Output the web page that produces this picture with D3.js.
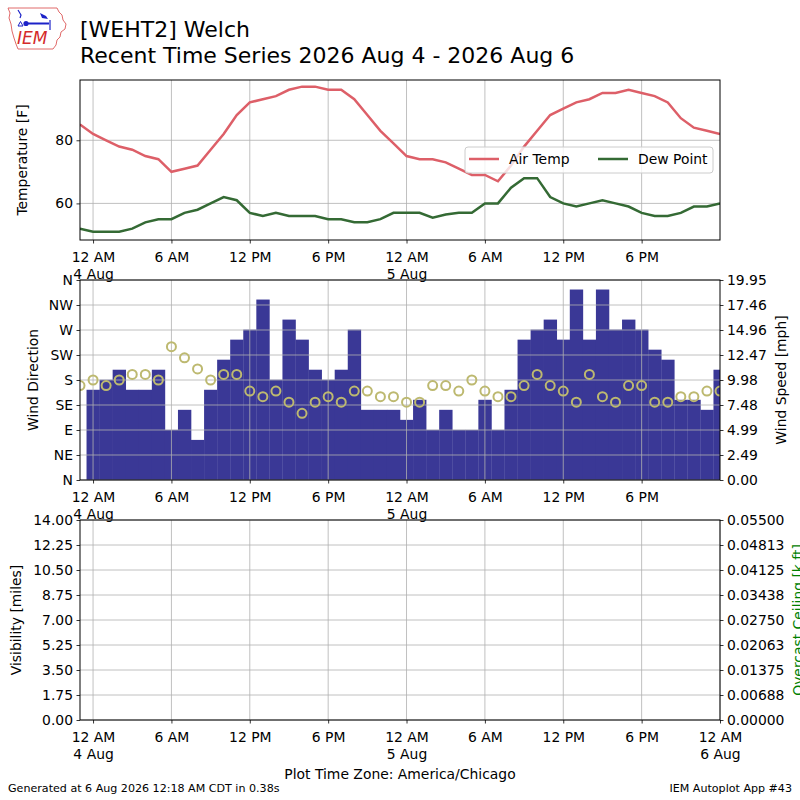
<!DOCTYPE html>
<html>
<head>
<meta charset="utf-8">
<script src="https://cdn.jsdelivr.net/npm/d3@7"></script>
<style>
body { margin: 0; background: #fff; }
text { font-family: "DejaVu Sans", sans-serif; }
</style>
</head>
<body>
<div id="chart"></div>
<script>
// hourly observations, local time (America/Chicago)
var obsStart = "2026-08-03 23:00";
var obsEnd = "2026-08-06 00:00";

// air temperature [F], one per hour from obsStart
var tmpf = [85,
	82, 80, 78, 77, 75, 74, 70, 71, 72, 77, 82, 88, 92, 93, 94, 96, 97, 97, 96, 96, 93, 88, 83, 79,
	75, 74, 74, 73, 71, 69, 69, 67, 72, 78, 83, 88, 90, 92, 93, 95, 95, 96, 95, 94, 92, 87, 84, 83, 82];
// dew point [F]
var dwpf = [52,
	51, 51, 51, 52, 54, 55, 55, 57, 58, 60, 62, 61, 57, 56, 57, 56, 56, 56, 55, 55, 54, 54, 55, 57,
	57, 57, 55.5, 56.5, 57, 57, 60, 60, 65, 68, 68, 62, 60, 59, 60, 61, 60, 59, 57, 56, 56, 57, 59, 59, 60];
// wind speed [mph], null = missing
var sped = [null,
	9, 10, 11, 9, 9, 11, 5, 7, 4, 9, 12, 14, 15, 18, 10, 16, 14, 11, 10, 11, 15, 7, 7, 7,
	6, 8, 5, 7, 5, 5, 8, 5, 9, 14, 15, 16, 14, 19, 14, 19, 15, 16, 15, 13, 12, 8, 8, 7, 11];
// wind direction [deg]
var drct = [170,
	180, 170, 180, 190, 190, 180, 240, 220, 200, 180, 190, 190, 160, 150, 160, 140, 120, 140, 150, 140, 160, 160, 150, 150,
	140, 140, 170, 170, 160, 180, 160, 150, 150, 170, 190, 170, 160, 140, 190, 150, 140, 170, 170, 140, 140, 150, 150, 160, 160];

// axis limits and tick labels
var tempLimits = [48.4, 99.1];
var tempTicks = [60, 80];
var dirTicks = [0, 45, 90, 135, 180, 225, 270, 315, 360];
var dirLabels = ["N", "NE", "E", "SE", "S", "SW", "W", "NW", "N"];
var speedMax = 19.95;
var speedLabels = ["0.00", "2.49", "4.99", "7.48", "9.98", "12.47", "14.96", "17.46", "19.95"];
var visMax = 14;
var visLabels = ["0.00", "1.75", "3.50", "5.25", "7.00", "8.75", "10.50", "12.25", "14.00"];
var ceilMax = 0.055;
var ceilLabels = ["0.00000", "0.00688", "0.01375", "0.02063", "0.02750", "0.03438", "0.04125", "0.04813", "0.05500"];

var fs = 13.9; // matplotlib 10pt at 100dpi
var gridColor = "#b0b0b0";
var tempColor = "#dd5f68";
var dewColor = "#346a34";
var barColor = "#3a3896";
var dirColor = "#bdb970";

var parse = d3.timeParse("%Y-%m-%d %H:%M");
var t0 = parse(obsStart), t1 = parse(obsEnd);
var times = d3.timeHour.range(t0, d3.timeHour.offset(t1, 1));

var svg = d3.select("#chart").append("svg").attr("width", 800).attr("height", 800);

var x = d3.scaleTime().domain([t0, t1]).range([80, 720]);
var xTicksAll = x.ticks(d3.timeHour.every(6));
var xTicksTop = xTicksAll.filter(function(d) { return d < t1; });
var fmtHour = d3.timeFormat("%-I %p");
var fmtDay = d3.timeFormat("%-d %b");

// panel boxes [top, bottom]
var pTemp = [80, 240], pWind = [280, 480], pVis = [520, 720];

var defs = svg.append("defs");
function clipFor(id, p) {
	defs.append("clipPath").attr("id", id).append("rect")
		.attr("x", 80).attr("y", p[0]).attr("width", 640).attr("height", p[1] - p[0]);
	return "url(#" + id + ")";
}

function grid(p, yScale, yVals, xVals) {
	var g = svg.append("g").attr("stroke", gridColor).attr("stroke-width", 0.8);
	g.selectAll(".gx").data(xVals).enter().append("line")
		.attr("x1", function(d) { return x(d); }).attr("x2", function(d) { return x(d); })
		.attr("y1", p[0]).attr("y2", p[1]);
	g.selectAll(".gy").data(yVals).enter().append("line")
		.attr("x1", 80).attr("x2", 720)
		.attr("y1", function(d) { return yScale(d); }).attr("y2", function(d) { return yScale(d); });
}

function styleAxis(g) {
	g.select(".domain").remove();
	g.selectAll(".tick line").attr("stroke", "#000").attr("stroke-width", 0.8);
	g.selectAll("text").attr("font-size", fs).attr("fill", "#000")
		.attr("font-family", "DejaVu Sans, sans-serif");
}

function timeAxis(p, ticks) {
	var g = svg.append("g").attr("transform", "translate(0," + p[1] + ")")
		.call(d3.axisBottom(x).tickValues(ticks).tickSize(3.5).tickFormat(""));
	styleAxis(g);
	g.selectAll(".tick").each(function(d) {
		var t = d3.select(this).append("text").attr("text-anchor", "middle")
			.attr("font-size", fs).attr("fill", "#000");
		t.append("tspan").attr("x", 0).attr("y", 22).text(fmtHour(d));
		if (d.getHours() == 0) {
			t.append("tspan").attr("x", 0).attr("y", 38.7).text(fmtDay(d));
		}
	});
}

function frame(p) {
	svg.append("rect").attr("x", 80).attr("y", p[0]).attr("width", 640).attr("height", p[1] - p[0])
		.attr("fill", "none").attr("stroke", "#000").attr("stroke-width", 1);
}

function yLabel(txt, xPos, p, color) {
	svg.append("text").attr("transform", "translate(" + xPos + "," + (p[0] + p[1]) / 2 + ") rotate(-90)")
		.attr("text-anchor", "middle").attr("font-size", fs).attr("fill", color || "#000").text(txt);
}

// ---------- header ----------
var logo = svg.append("g");
logo.append("path")
	.attr("d", "M8,8 L57,8 L59,12 L62,15 L63,20 L66,24 L65,29 L61,32 L60,37 L57,40 L56,45 L53,49 L18,49 L16,44 L14,38 L12,31 L11,24 L9,18 L10,13 Z")
	.attr("fill", "none").attr("stroke", "#e06a6a").attr("stroke-width", 1);
logo.append("line").attr("x1", 24).attr("y1", 23.5).attr("x2", 49).attr("y2", 23.5)
	.attr("stroke", "#1c22c8").attr("stroke-width", 2);
logo.append("circle").attr("cx", 26).attr("cy", 23.5).attr("r", 2.6).attr("fill", "#1c22c8");
logo.append("path").attr("d", "M18,26 L20.5,21.5 L23,26 Z").attr("fill", "none").attr("stroke", "#1c22c8");
logo.append("path").attr("d", "M40,13 L46,16 L48,19 L42,18 Z").attr("fill", "#1c22c8");
logo.append("line").attr("x1", 50).attr("y1", 20).attr("x2", 50).attr("y2", 30).attr("stroke", "#1c22c8").attr("stroke-width", 1.2);
logo.append("path").attr("d", "M18,10 L21,15 L20,18").attr("fill", "none").attr("stroke", "#1c22c8").attr("stroke-width", 1.2);
logo.append("text").attr("x", 17).attr("y", 44).attr("font-family", "Liberation Serif, serif")
	.attr("font-style", "italic").attr("font-size", 17).attr("fill", "#d42a2a").text("IEM");

svg.append("text").attr("x", 80).attr("y", 37).attr("font-size", 22).text("[WEHT2] Welch");
svg.append("text").attr("x", 80).attr("y", 63).attr("font-size", 22)
	.text("Recent Time Series 2026 Aug 4 - 2026 Aug 6");

// ---------- temperature panel ----------
var yTemp = d3.scaleLinear().domain(tempLimits).range([pTemp[1], pTemp[0]]);
grid(pTemp, yTemp, tempTicks, xTicksTop);
var tempClip = clipFor("clipTemp", pTemp);
var lineTemp = d3.line().x(function(d, i) { return x(times[i]); }).y(function(d) { return yTemp(d); });
svg.append("path").datum(tmpf).attr("clip-path", tempClip).attr("d", lineTemp)
	.attr("fill", "none").attr("stroke", tempColor).attr("stroke-width", 2.5);
svg.append("path").datum(dwpf).attr("clip-path", tempClip).attr("d", lineTemp)
	.attr("fill", "none").attr("stroke", dewColor).attr("stroke-width", 2.5);

var gT = svg.append("g").attr("transform", "translate(80,0)")
	.call(d3.axisLeft(yTemp).tickValues(tempTicks).tickSize(3.5).tickPadding(3.5));
styleAxis(gT);
timeAxis(pTemp, xTicksTop);
frame(pTemp);
yLabel("Temperature [F]", 27, pTemp);

// legend
var leg = svg.append("g");
leg.append("rect").attr("x", 465).attr("y", 147).attr("width", 248).attr("height", 26)
	.attr("rx", 3).attr("fill", "#fff").attr("fill-opacity", 0.8).attr("stroke", "#cccccc").attr("stroke-width", 1);
var legItems = [{ name: "Air Temp", color: tempColor, x: 469 }, { name: "Dew Point", color: dewColor, x: 598 }];
leg.selectAll(".li").data(legItems).enter().append("line")
	.attr("x1", function(d) { return d.x; }).attr("x2", function(d) { return d.x + 30; })
	.attr("y1", 159).attr("y2", 159).attr("stroke", function(d) { return d.color; }).attr("stroke-width", 2.5);
leg.selectAll(".lt").data(legItems).enter().append("text")
	.attr("x", function(d) { return d.x + 40; }).attr("y", 164).attr("font-size", fs)
	.text(function(d) { return d.name; });

// ---------- wind panel ----------
var yDir = d3.scaleLinear().domain([0, 360]).range([pWind[1], pWind[0]]);
var ySpd = d3.scaleLinear().domain([0, speedMax]).range([pWind[1], pWind[0]]);
var windClip = clipFor("clipWind", pWind);

svg.append("g").attr("clip-path", windClip).selectAll("rect")
	.data(sped.map(function(v, i) { return { t: times[i], v: v }; }).filter(function(d) { return d.v != null; }))
	.enter().append("rect")
	.attr("x", function(d) { return x(d3.timeMinute.offset(d.t, -30)); })
	.attr("width", function(d) { return x(d3.timeMinute.offset(d.t, 30)) - x(d3.timeMinute.offset(d.t, -30)) + 0.3; })
	.attr("y", function(d) { return ySpd(d.v); })
	.attr("height", function(d) { return ySpd(0) - ySpd(d.v); })
	.attr("fill", barColor);

grid(pWind, yDir, dirTicks, xTicksTop);

svg.append("g").attr("clip-path", windClip).selectAll("circle")
	.data(drct).enter().append("circle")
	.attr("cx", function(d, i) { return x(times[i]); })
	.attr("cy", function(d) { return yDir(d); })
	.attr("r", 4.5).attr("fill", "none").attr("stroke", dirColor).attr("stroke-width", 2);

var gD = svg.append("g").attr("transform", "translate(80,0)")
	.call(d3.axisLeft(yDir).tickValues(dirTicks).tickSize(3.5).tickPadding(3.5)
		.tickFormat(function(d, i) { return dirLabels[i]; }));
styleAxis(gD);
var gS = svg.append("g").attr("transform", "translate(720,0)")
	.call(d3.axisRight(ySpd).tickValues(speedLabels.map(function(s, i) { return speedMax * i / 8; }))
		.tickSize(3.5).tickPadding(3.5).tickFormat(function(d, i) { return speedLabels[i]; }));
styleAxis(gS);
timeAxis(pWind, xTicksTop);
frame(pWind);
yLabel("Wind Direction", 38, pWind);
yLabel("Wind Speed [mph]", 785.5, pWind);

// ---------- visibility / ceiling panel ----------
var yVis = d3.scaleLinear().domain([0, visMax]).range([pVis[1], pVis[0]]);
var yCeil = d3.scaleLinear().domain([0, ceilMax]).range([pVis[1], pVis[0]]);
var visTicks = visLabels.map(function(s, i) { return visMax * i / 8; });
grid(pVis, yVis, visTicks, xTicksAll);
var gV = svg.append("g").attr("transform", "translate(80,0)")
	.call(d3.axisLeft(yVis).tickValues(visTicks).tickSize(3.5).tickPadding(3.5)
		.tickFormat(function(d, i) { return visLabels[i]; }));
styleAxis(gV);
var gC = svg.append("g").attr("transform", "translate(720,0)")
	.call(d3.axisRight(yCeil).tickValues(ceilLabels.map(function(s, i) { return ceilMax * i / 8; }))
		.tickSize(3.5).tickPadding(3.5).tickFormat(function(d, i) { return ceilLabels[i]; }));
styleAxis(gC);
timeAxis(pVis, xTicksAll);
frame(pVis);
yLabel("Visibility [miles]", 20.5, pVis);
// in the original the ceiling label runs past the right edge of the image
yLabel("Overcast Ceiling [k ft]", 803, pVis, "green");

// ---------- footer ----------
svg.append("text").attr("x", 400).attr("y", 779).attr("text-anchor", "middle").attr("font-size", fs)
	.text("Plot Time Zone: America/Chicago");
svg.append("text").attr("x", 8).attr("y", 792).attr("font-size", 11.1)
	.text("Generated at 6 Aug 2026 12:18 AM CDT in 0.38s");
svg.append("text").attr("x", 792).attr("y", 792).attr("text-anchor", "end").attr("font-size", 11.1)
	.text("IEM Autoplot App #43");
</script>
</body>
</html>
